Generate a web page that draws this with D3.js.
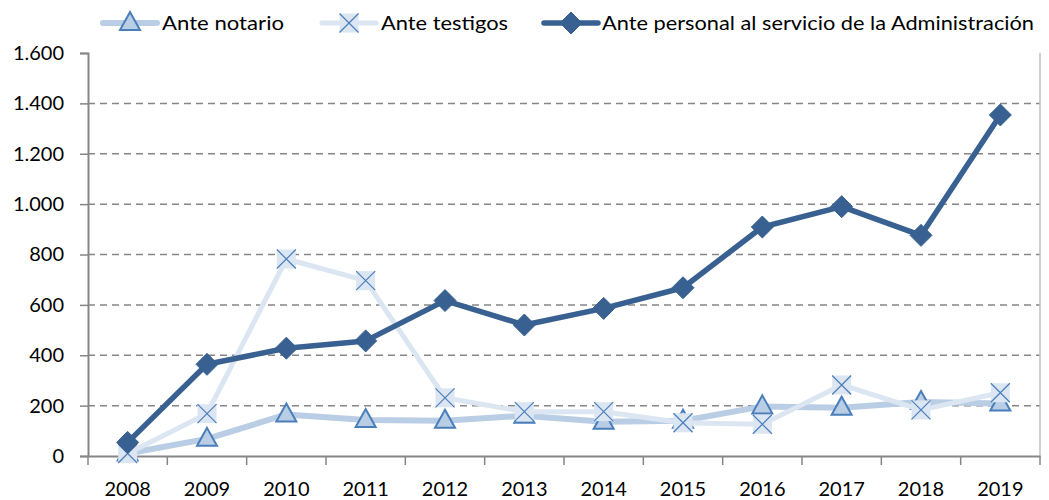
<!DOCTYPE html>
<html><head><meta charset="utf-8">
<script src="https://cdn.jsdelivr.net/npm/d3@7"></script>
<style>body{margin:0;background:#fff}svg{display:block}text{font-family:Lato,"Open Sans",sans-serif;fill:#000}</style>
</head><body><svg id="c" width="1049" height="500"></svg>
<script>
const years = ["2008","2009","2010","2011","2012","2013","2014","2015","2016","2017","2018","2019"];
const notario = [10,68,165,143,140,160,136,140,197,192,214,208];
const testigos = [10,168,782,696,231,176,176,132,126,282,183,251];
const personal = [54,364,428,457,617,520,586,668,909,990,876,1354];
const seriesNames = ["Ante notario","Ante testigos","Ante personal al servicio de la Administración"];
const yTicks = [0,200,400,600,800,1000,1200,1400,1600];

const svg = d3.select("#c");
const L = 88, R = 1040, T = 53, B = 456;
const x = d3.scaleBand().domain(years).range([L, R]);
const y = d3.scaleLinear().domain([0,1600]).range([B, T]);
const loc = d3.formatLocale({decimal:",", thousands:".", grouping:[3], currency:["","€"]});
const fmt = loc.format(",d");
const grid = "#868686";

// gridlines
svg.append("g").selectAll("line").data(yTicks.filter(d=>d>0 && d<1600)).join("line")
  .attr("x1", L).attr("x2", R).attr("y1", d=>y(d)).attr("y2", d=>y(d))
  .attr("stroke", grid).attr("stroke-width", 1.5).attr("stroke-dasharray", "7,5");

// y axis
const ya = svg.append("g").attr("transform", `translate(${L},0)`)
  .call(d3.axisLeft(y).tickValues(yTicks).tickFormat(fmt).tickSize(8).tickPadding(16));
ya.select(".domain").attr("stroke", grid).attr("stroke-width", 2);
ya.selectAll(".tick line").attr("stroke", grid).attr("stroke-width", 1.5);
ya.selectAll(".tick text").attr("font-size", 20).attr("fill", "#000").style("font-family","Lato");

// right border
svg.append("line").attr("x1", R).attr("x2", R).attr("y1", T).attr("y2", B).attr("stroke", "#bfbfbf").attr("stroke-width", 1.5);

// x axis
const xa = svg.append("g").attr("transform", `translate(0,${B})`)
  .call(d3.axisBottom(x).tickSize(0).tickPadding(26));
xa.select(".domain").attr("stroke", grid).attr("stroke-width", 2);
xa.selectAll(".tick text").attr("font-size", 20).attr("fill", "#000").style("font-family","Lato");
const bounds = years.map(d => x(d)).concat([R]);
svg.append("g").selectAll("line").data(bounds).join("line")
  .attr("x1", d=>d).attr("x2", d=>d).attr("y1", B).attr("y2", B+9)
  .attr("stroke", grid).attr("stroke-width", 1.5);

const cx = d => x(d) + x.bandwidth()/2;
const line = d3.line().x(d=>cx(d[0])).y(d=>y(d[1]));

const cfg = [
  {vals: notario, color:"#b9cde5", w:6, marker:"tri"},
  {vals: testigos, color:"#dce6f2", w:5, marker:"x"},
  {vals: personal, color:"#386192", w:5.5, marker:"dia"}
];

function drawMarker(g, type, px, py) {
  if (type === "tri") {
    g.append("path").attr("d", `M${px},${py-11}L${px+10},${py+7}L${px-10},${py+7}Z`)
      .attr("fill", "#b9cde5").attr("stroke", "#4a7ebb").attr("stroke-width", 2);
  } else if (type === "x") {
    g.append("rect").attr("x", px-9.5).attr("y", py-9.5).attr("width", 19).attr("height", 19).attr("fill", "#dce6f2");
    g.append("path").attr("d", `M${px-9.5},${py-9.5}L${px+9.5},${py+9.5}M${px+9.5},${py-9.5}L${px-9.5},${py+9.5}`)
      .attr("stroke", "#4a7ebb").attr("stroke-width", 1.2).attr("fill","none");
  } else {
    g.append("path").attr("d", `M${px},${py-11}L${px+11},${py}L${px},${py+11}L${px-11},${py}Z`)
      .attr("fill", "#386192").attr("stroke", "#386192").attr("stroke-width", 1);
  }
}

cfg.forEach(c => {
  const data = years.map((yr,i)=>[yr, c.vals[i]]);
  const g = svg.append("g");
  g.append("path").datum(data).attr("d", line).attr("fill","none")
    .attr("stroke", c.color).attr("stroke-width", c.w).attr("stroke-linejoin","round");
  data.forEach(d => drawMarker(g, c.marker, cx(d[0]), y(d[1])));
});

// legend
const leg = [
  {x1:103, x2:157, tx:162, tw:122},
  {x1:322, x2:376, tx:381, tw:127},
  {x1:544, x2:598, tx:602, tw:432}
];
leg.forEach((l,i) => {
  const g = svg.append("g");
  g.append("line").attr("x1", l.x1).attr("x2", l.x2).attr("y1", 23).attr("y2", 23)
    .attr("stroke", cfg[i].color).attr("stroke-width", cfg[i].w).attr("stroke-linecap","round");
  drawMarker(g, cfg[i].marker, (l.x1+l.x2)/2, 23);
  g.append("text").attr("x", l.tx).attr("y", 30).attr("font-size", 20).text(seriesNames[i])
    .attr("textLength", l.tw).attr("lengthAdjust","spacingAndGlyphs");
});
</script></body></html>
